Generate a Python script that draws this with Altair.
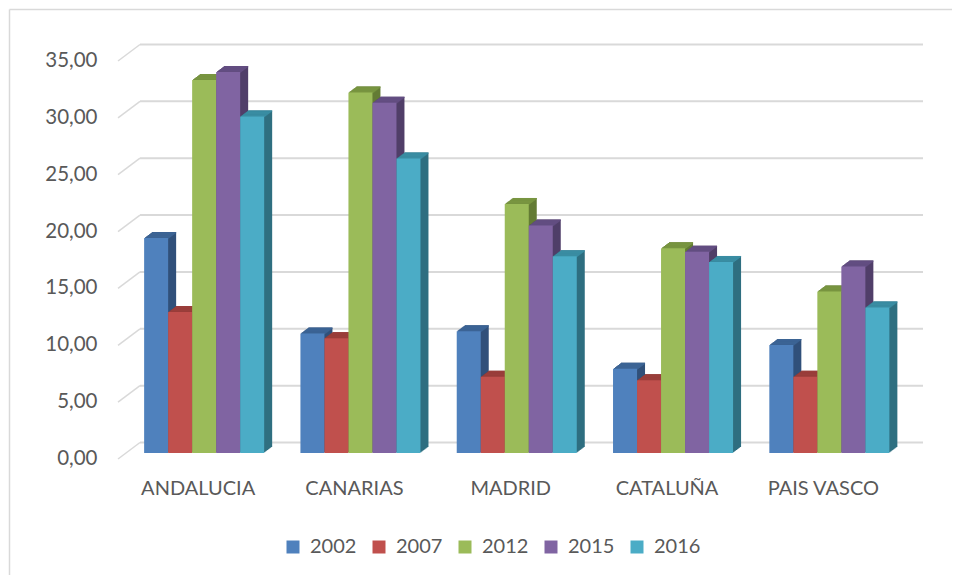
import altair as alt
import pandas as pd

# ---- data ----
regions = ["ANDALUCIA", "CANARIAS", "MADRID", "CATALUÑA", "PAIS VASCO"]
years = ["2002", "2007", "2012", "2015", "2016"]
v2002 = [18.9, 10.5, 10.7, 7.4, 9.5]
v2007 = [12.4, 10.1, 6.7, 6.4, 6.7]
v2012 = [32.8, 31.7, 21.9, 18.0, 14.2]
v2015 = [33.5, 30.8, 20.0, 17.7, 16.4]
v2016 = [29.6, 25.9, 17.3, 16.8, 12.8]
y_ticks = [0, 5, 10, 15, 20, 25, 30, 35]

# ---- styles ----
front_colors = ["#4F81BD", "#C0504D", "#9BBB59", "#8064A2", "#4BACC6"]
top_colors = ["#3C6495", "#9A3E3B", "#789540", "#634E82", "#3A8DA3"]
side_colors = ["#31507A", "#7F3431", "#637B35", "#503F69", "#2F6F80"]
FONT = "Lato"
TXT = "#595959"
GRID = "#D9D9D9"
W, H = 781.5, 398
PI, PO = 0.232, 0.116
BW = W / (len(regions) - PI + 2 * PO) * (1 - PI)
DEPTH = 8
SLOPE = 0.75

rows = []
for yr, vals in zip(years, [v2002, v2007, v2012, v2015, v2016]):
    for r, v in zip(regions, vals):
        rows.append({"region": r, "year": yr, "value": v})
df = pd.DataFrame(rows)
grid_df = pd.DataFrame({"v": y_ticks})
dummy = pd.DataFrame({"a": [0]})

x_scale = alt.Scale(paddingInner=PI, paddingOuter=PO)
y_scale = alt.Scale(domain=[0, 35], nice=False, zero=True)

x_axis = alt.Axis(title=None, domain=False, ticks=False, labelAngle=0,
                  labelFont=FONT, labelFontSize=20, labelColor=TXT,
                  labelPadding=25, labelOffset=-6)
y_axis = alt.Axis(title=None, values=y_ticks, domain=False, ticks=False, grid=False,
                  labelExpr="replace(format(datum.value, '.2f'), '.', ',')",
                  labelFont=FONT, labelFontSize=20.5, labelColor=TXT,
                  labelPadding=29, labelOffset=5.5)


def xoff(shift):
    return alt.XOffset("year:N", sort=years,
                       scale=alt.Scale(domain=years, range=[shift, BW + shift],
                                       paddingInner=0, paddingOuter=0))


X = alt.X("region:N", sort=regions, scale=x_scale, axis=x_axis)

layers = []

# chart frame (left + top edges)
layers.append(alt.Chart(dummy).mark_rule(color=GRID, strokeWidth=1.5).encode(
    x=alt.value(-116.5), y=alt.value(-45.5), y2=alt.value(530)))
layers.append(alt.Chart(dummy).mark_rule(color=GRID, strokeWidth=1.5).encode(
    x=alt.value(-116.5), x2=alt.value(840), y=alt.value(-45.5)))

# back-wall gridlines and floor-side leaders
layers.append(alt.Chart(grid_df).mark_rule(color=GRID, strokeWidth=2, yOffset=-10.5).encode(
    x=alt.value(14), x2=alt.value(797),
    y=alt.Y("v:Q", scale=y_scale, axis=y_axis)))
layers.append(alt.Chart(grid_df).mark_rule(color=GRID, strokeWidth=1.5, yOffset=6, y2Offset=-10.5).encode(
    x=alt.value(-8), x2=alt.value(14),
    y=alt.Y("v:Q", scale=y_scale, axis=y_axis), y2="v:Q"))

# side (depth) faces
for i in range(DEPTH, 0, -1):
    layers.append(alt.Chart(df).mark_bar(yOffset=-SLOPE * i, y2Offset=-SLOPE * i).encode(
        x=X, xOffset=xoff(i),
        y=alt.Y("value:Q", scale=y_scale, axis=y_axis),
        color=alt.Color("year:N", scale=alt.Scale(domain=years, range=side_colors), legend=None)))

# top faces
for i in range(DEPTH, 0, -1):
    layers.append(alt.Chart(df).mark_bar(yOffset=-SLOPE * i, y2Offset=-SLOPE * i + 1.3).encode(
        x=X, xOffset=xoff(i),
        y=alt.Y("value:Q", scale=y_scale, axis=y_axis),
        y2=alt.Y2("value:Q"),
        color=alt.Color("year:N", scale=alt.Scale(domain=years, range=top_colors), legend=None)))

# front faces with legend
layers.append(alt.Chart(df).mark_bar().encode(
    x=X, xOffset=xoff(0),
    y=alt.Y("value:Q", scale=y_scale, axis=y_axis),
    color=alt.Color("year:N", sort=years,
                    scale=alt.Scale(domain=years, range=front_colors),
                    legend=alt.Legend(title=None, orient="none", legendX=157, legendY=482,
                                      direction="horizontal", symbolType="square",
                                      symbolSize=169, symbolStrokeWidth=0,
                                      labelFont=FONT, labelFontSize=20, labelColor=TXT,
                                      labelOffset=7, columnPadding=12))))

chart = alt.layer(*layers).resolve_scale(color="independent", xOffset="independent").properties(
    width=W, height=H,
    autosize=alt.AutoSizeParams(type="none"),
    padding={"left": 118, "top": 47, "right": 44.5, "bottom": 122},
    background="white",
).configure_view(stroke=None)

chart.save("out.html", embed_options={"renderer": "svg", "actions": False})
